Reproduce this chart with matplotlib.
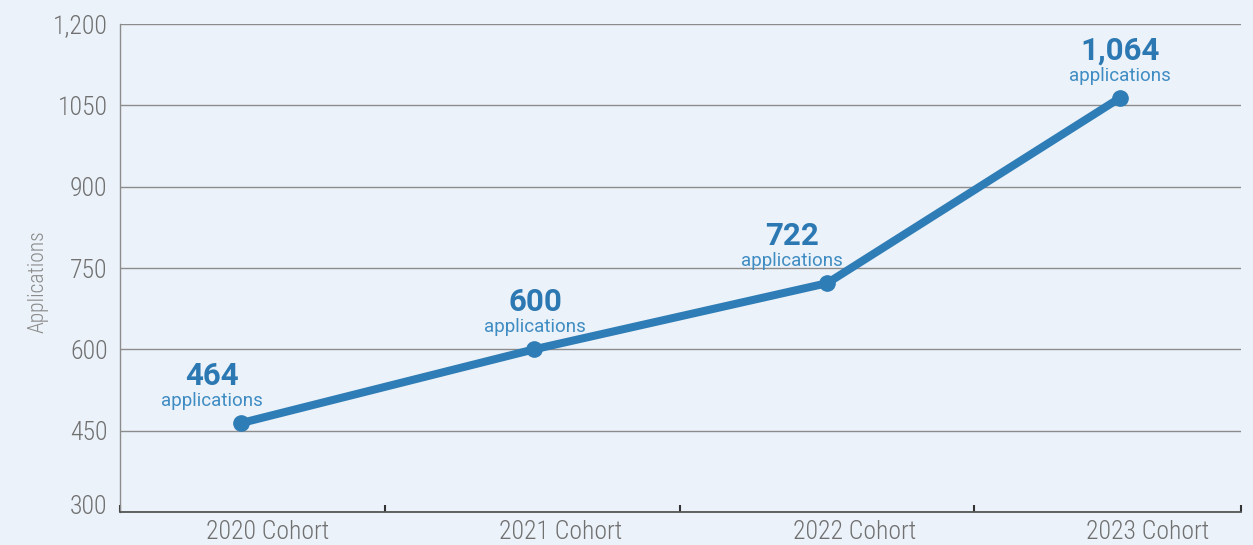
import matplotlib
matplotlib.use("Agg")
import matplotlib.pyplot as plt
import matplotlib.font_manager as fm
import matplotlib.transforms as mtransforms
from matplotlib.ticker import FixedLocator
import numpy as np

# ---- data ----
cohorts = ["2020 Cohort", "2021 Cohort", "2022 Cohort", "2023 Cohort"]
applications = [464, 600, 722, 1064]
value_labels = ["464", "600", "722", "1,064"]
y_ticks = [300, 450, 600, 750, 900, 1050, 1200]
y_tick_labels = ["300", "450", "600", "750", "900", "1050", "1,200"]

# ---- font choice: a narrow, light face if installed ----
entries = fm.fontManager.ttflist


def is_cond(f):
    s = f.stretch
    if isinstance(s, str):
        return "condensed" in s or "narrow" in f.name.lower()
    return s < 500


def wval(f):
    w = f.weight
    if isinstance(w, int):
        return w
    return {"light": 300, "normal": 400, "regular": 400, "book": 400}.get(str(w), 400)


cond = [f for f in entries if (is_cond(f) or "Condensed" in f.name or "Narrow" in f.name)
        and f.style == "normal"]
cond.sort(key=lambda f: (abs(wval(f) - 300), "Roboto" not in f.name))
narrow_fname = cond[0].fname if cond else None


def nprops(size):
    if narrow_fname:
        return fm.FontProperties(fname=narrow_fname, size=size)
    return fm.FontProperties(family=["Roboto", "DejaVu Sans"], weight="light", size=size)


# ---- style ----
line_color = "#2f7db6"
num_color = "#2c78b2"
sub_color = "#3f8cc3"
tick_color = "#707070"
bg = "#ebf2f9"
point_shift = -0.092          # points sit slightly left of category centres
label_dx_px = [-29, 1, -35, 0]  # horizontal nudges of value labels (pixels)

fig = plt.figure(figsize=(12.53, 5.45), dpi=100, facecolor=bg)
ax = fig.add_axes([120 / 1253, 33 / 545, 1121 / 1253, 488 / 545])
ax.set_facecolor(bg)

x = np.arange(len(cohorts))
xp = x + point_shift
ax.plot(xp, applications, color=line_color, lw=5.8, solid_capstyle="round",
        marker="o", ms=11, mfc=line_color, mec=line_color, zorder=5)

px2pt = 72 / 100
for xi, v, lab, dx in zip(xp, applications, value_labels, label_dx_px):
    ax.annotate(lab, (xi, v), xytext=(dx * px2pt, 47 * px2pt), textcoords="offset points",
                ha="center", va="center", fontsize=22.5, fontweight="bold",
                family="Roboto", color=num_color, zorder=6)
    ax.annotate("applications", (xi, v), xytext=(dx * px2pt, 22 * px2pt),
                textcoords="offset points", ha="center", va="center",
                fontsize=13.5, family="Roboto", color=sub_color, zorder=6)

ax.set_ylim(300, 1200)
ax.set_xlim(-0.505, 3.32)
ax.set_yticks(y_ticks)
ax.set_yticklabels(y_tick_labels, fontproperties=nprops(18.5), color=tick_color)
ax.set_xticks(x)
ax.set_xticklabels(cohorts, fontproperties=nprops(18.5), color=tick_color)
ax.tick_params(axis="x", which="major", length=0, pad=6)
ax.tick_params(axis="y", which="major", length=0, pad=9)
ax.xaxis.set_minor_locator(FixedLocator([-0.505, 0.40, 1.405, 2.41, 3.32]))
ax.tick_params(axis="x", which="minor", direction="in", length=5, width=1.5, color="#333333")

# lowest y label sits a little above the axis line
lowest = ax.yaxis.get_major_ticks()[0].label1
lowest.set_transform(lowest.get_transform() +
                     mtransforms.ScaledTranslation(0, 8 / 100, fig.dpi_scale_trans))

ax.grid(axis="y", color="#8c8c8c", lw=1.0)
ax.set_axisbelow(True)
for s in ["top", "right"]:
    ax.spines[s].set_visible(False)
ax.spines["left"].set_color("#8c8c8c")
ax.spines["left"].set_linewidth(1.0)
ax.spines["bottom"].set_color("#555555")
ax.spines["bottom"].set_linewidth(1.3)

fig.text(38 / 1253, 1 - 282 / 545, "Applications", rotation=90, ha="center", va="center",
         fontproperties=nprops(15.5), color="#8a8a8a")

fig.savefig("out.png", dpi=100, facecolor=bg)
